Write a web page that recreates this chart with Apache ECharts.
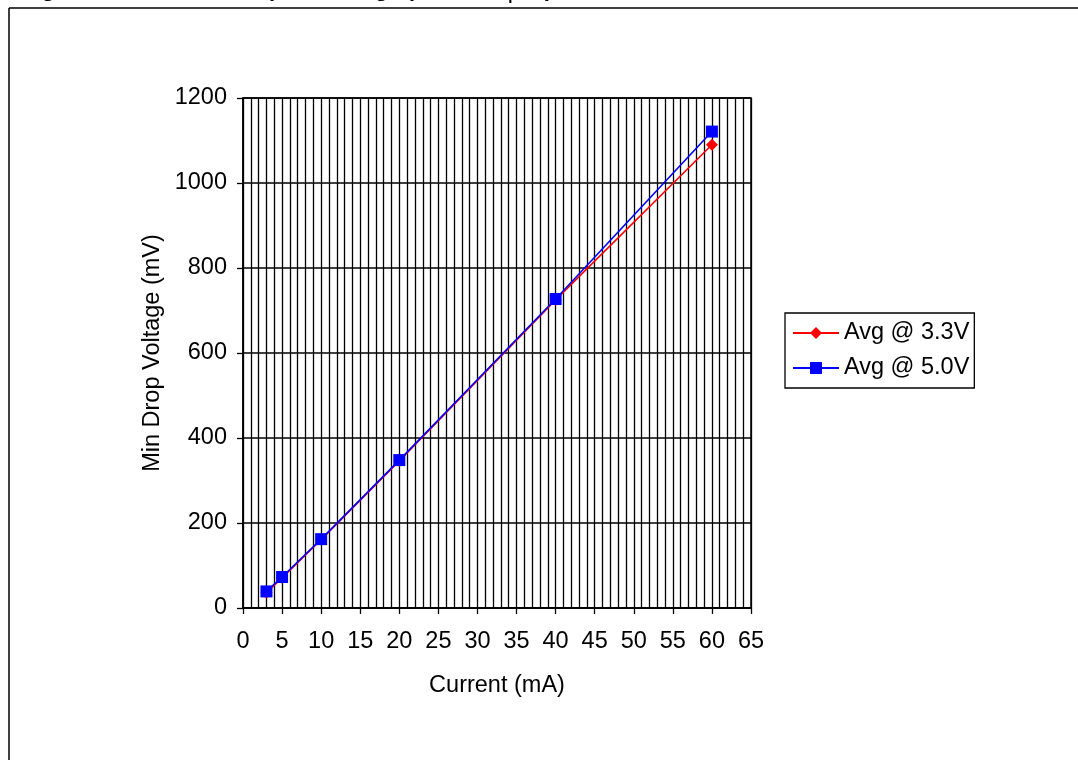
<!DOCTYPE html>
<html>
<head>
<meta charset="utf-8">
<script src="https://cdn.jsdelivr.net/npm/echarts@6/dist/echarts.min.js"></script>
<style>
html,body{margin:0;padding:0;background:#fff;}
#chart{width:1078px;height:760px;}
</style>
</head>
<body>
<div id="chart"></div>
<script>
// Data
const currents = [3, 5, 10, 20, 40, 60];          // mA
const avg33 = [36, 71, 161, 346, 725, 1090];      // mV, Avg @ 3.3V
const avg50 = [39, 73, 162, 348, 727, 1121];      // mV, Avg @ 5.0V
const seriesNames = ['Avg @ 3.3V', 'Avg @ 5.0V'];
const xTitle = 'Current (mA)';
const yTitle = 'Min Drop Voltage (mV)';

const FONT = "'Liberation Sans', Arial, sans-serif";
const FS = 23.5;
const pairs = (ys) => currents.map((x, i) => [x, ys[i]]);

const chart = echarts.init(document.getElementById('chart'), null, {renderer: 'canvas'});
chart.setOption({
  animation: false,
  backgroundColor: '#fff',
  textStyle: {fontFamily: FONT},
  graphic: [
    {type: 'line', shape: {x1: 9, y1: 8, x2: 1078, y2: 8}, style: {stroke: '#000', lineWidth: 1.5}},
    {type: 'line', shape: {x1: 9, y1: 8, x2: 9, y2: 760}, style: {stroke: '#000', lineWidth: 1.5}},
    {type: 'text', left: 22, top: -21, style: {text: 'Figure 10. V', font: 'bold 22px ' + FONT, fill: '#000'}},
    {type: 'text', left: 173, top: -13, style: {text: 'SZ1', font: 'bold 15px ' + FONT, fill: '#000'}},
    {type: 'text', left: 231, top: -21, style: {text: 'Dropout Voltage (V', font: 'bold 22px ' + FONT, fill: '#000'}},
    {type: 'text', left: 484, top: -12, style: {text: 'drop', font: 'bold 15px ' + FONT, fill: '#000'}},
    {type: 'text', left: 545, top: -21, style: {text: ')', font: 'bold 22px ' + FONT, fill: '#000'}}
  ],
  grid: {left: 243, right: 327, top: 98, bottom: 152, show: true, borderColor: '#000', borderWidth: 1.5},
  legend: {
    orient: 'vertical',
    left: 785, top: 313,
    padding: [8, 5, 8, 7],
    itemGap: 11,
    itemWidth: 46, itemHeight: 15,
    borderColor: '#000', borderWidth: 1.3,
    textStyle: {fontFamily: FONT, fontSize: FS, color: '#000'},
    data: seriesNames
  },
  xAxis: {
    type: 'value', min: 0, max: 65, interval: 5,
    name: xTitle, nameLocation: 'middle', nameGap: 66,
    nameTextStyle: {fontFamily: FONT, fontSize: FS, color: '#000'},
    axisLine: {show: true, lineStyle: {color: '#000', width: 1.5}},
    axisTick: {show: true, length: 6, lineStyle: {color: '#000', width: 1.3}},
    axisLabel: {fontFamily: FONT, fontSize: FS, color: '#000', margin: 22},
    splitLine: {show: true, lineStyle: {color: '#000', width: 1.3}},
    minorTick: {show: false, splitNumber: 5},
    minorSplitLine: {show: true, lineStyle: {color: '#000', width: 1.3}}
  },
  yAxis: {
    type: 'value', min: 0, max: 1200, interval: 200,
    name: yTitle, nameLocation: 'middle', nameGap: 78,
    nameTextStyle: {fontFamily: FONT, fontSize: FS, color: '#000'},
    axisLine: {show: true, lineStyle: {color: '#000', width: 1.5}},
    axisTick: {show: true, length: 6, lineStyle: {color: '#000', width: 1.3}},
    axisLabel: {fontFamily: FONT, fontSize: FS, color: '#000', margin: 16, formatter: (v) => String(v)},
    splitLine: {show: true, lineStyle: {color: '#000', width: 1.5}}
  },
  series: [
    {
      name: seriesNames[0], type: 'line', data: pairs(avg33),
      symbol: 'diamond', symbolSize: 12, showAllSymbol: true,
      lineStyle: {color: '#ff0000', width: 1.6},
      itemStyle: {color: '#ff0000'}
    },
    {
      name: seriesNames[1], type: 'line', data: pairs(avg50),
      symbol: 'rect', symbolSize: 12, showAllSymbol: true,
      lineStyle: {color: '#0000ff', width: 1.6},
      itemStyle: {color: '#0000ff'}
    }
  ]
});
</script>
</body>
</html>
